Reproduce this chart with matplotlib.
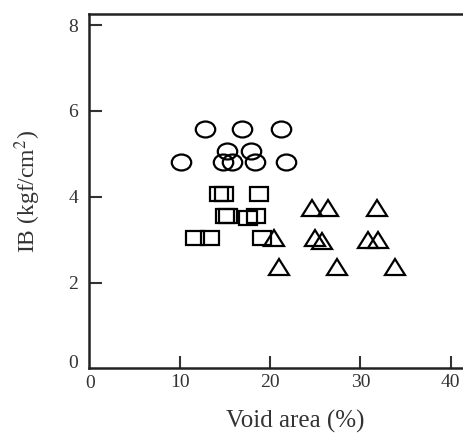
import matplotlib
matplotlib.use("Agg")
import matplotlib.pyplot as plt
from matplotlib.markers import MarkerStyle
from matplotlib.transforms import Affine2D

plt.rcParams['font.family'] = ['Liberation Serif', 'DejaVu Serif']
plt.rcParams['mathtext.fontset'] = 'stix'

# datos
circ_x = [12.8, 16.9, 21.2, 10.2, 15.2, 14.8, 15.8, 17.9, 18.3, 21.8]
circ_y = [5.57, 5.57, 5.57, 4.80, 5.07, 4.80, 4.80, 5.07, 4.80, 4.80]

sq_x = [14.4, 14.9, 18.8, 15.0, 15.4, 17.6, 18.5, 11.7, 13.4, 19.1]
sq_y = [4.06, 4.06, 4.06, 3.55, 3.55, 3.50, 3.55, 3.04, 3.04, 3.04]

tri_x = [24.6, 26.4, 31.8, 20.4, 25.0, 25.8, 30.8, 32.0, 21.0, 27.4, 33.8]
tri_y = [3.73, 3.73, 3.73, 3.03, 3.03, 2.97, 3.00, 3.00, 2.37, 2.37, 2.37]

xticks = [10, 20, 30, 40]
yticks = [2, 4, 6, 8]

fig = plt.figure(figsize=(4.63, 4.34), dpi=100)
ax = fig.add_axes([0.1929, 0.1514, 0.8197, 0.8164])

squash = Affine2D().scale(1.0, 0.82)
mk = dict(linestyle='none', markerfacecolor='none', markeredgecolor='black',
          markeredgewidth=1.6)
ax.plot(circ_x, circ_y, marker=MarkerStyle('o', transform=squash), markersize=14, **mk)
ax.plot(sq_x, sq_y, marker=MarkerStyle('s', transform=squash), markersize=13, **mk)
ax.plot(tri_x, tri_y, marker=MarkerStyle('^', transform=squash), markersize=14, **mk)

ax.set_xlim(0, 42)
ax.set_ylim(0, 8.26)
ax.set_xticks(xticks)
ax.set_yticks(yticks)
ax.tick_params(direction='in', length=9, width=1.5, labelsize=14,
               colors='#333333', labelcolor='#333333')
ax.tick_params(axis='x', pad=4)
ax.tick_params(axis='y', pad=8)
ax.spines['right'].set_visible(False)
for s in ['left', 'bottom', 'top']:
    ax.spines[s].set_linewidth(1.8)
    ax.spines[s].set_color('#222222')

# ceros en el origen
ax.text(-1.3, 0.12, '0', ha='right', va='center', fontsize=14, color='#333333')
ax.text(0.1, -0.15, '0', ha='center', va='top', fontsize=14, color='#333333')

ax.set_xlabel('Void area (%)', fontsize=18, color='#333333')
ax.set_ylabel('IB (kgf/cm$^2$)', fontsize=17, color='#333333')
ax.xaxis.set_label_coords(0.542, -0.118)
ax.yaxis.set_label_coords(-0.122, 0.50)

fig.savefig('out.png', dpi=100)
